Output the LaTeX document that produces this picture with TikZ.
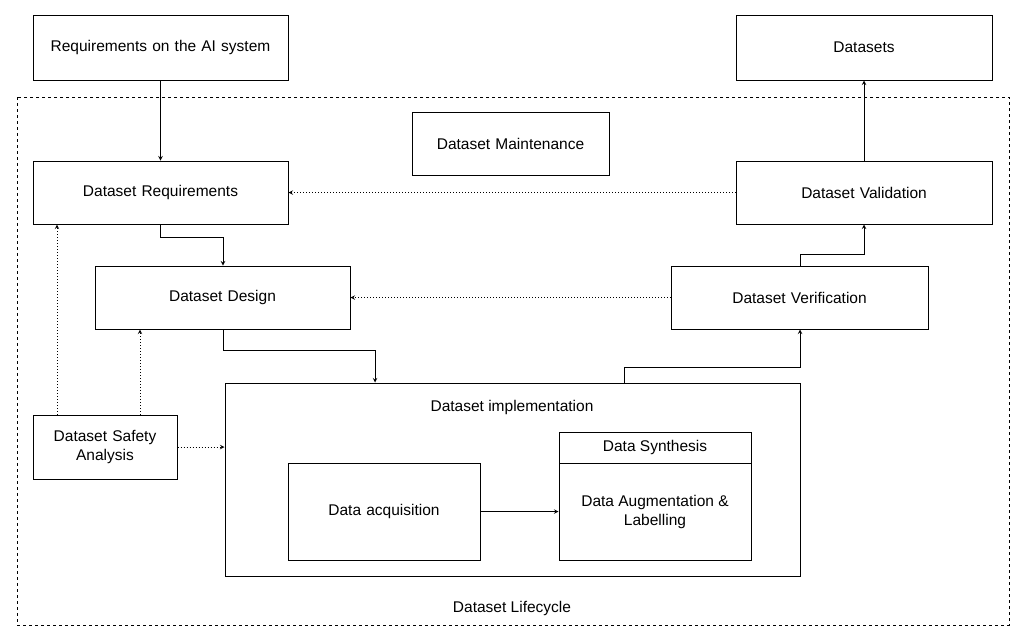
\documentclass[tikz,border=0pt]{standalone}
\usepackage{fontspec}
\setmainfont{Liberation Sans}
\begin{document}
\begin{tikzpicture}[x=1pt,y=-1pt,
  box/.style={draw,line width=1pt,align=center,font=\fontsize{15.5}{19}\selectfont},
  lbl/.style={align=center,font=\fontsize{15.5}{19}\selectfont},
  arr/.style={->,>=stealth,line width=1pt},
  dot/.style={->,>=stealth,line width=1pt,dotted}]
\useasboundingbox (0,0) rectangle (1024,641);
\draw[dashed,line width=1pt] (17,97) rectangle (1009,625);
\node[lbl] (life) at (512,608) {Dataset Lifecycle};
\newcommand{\bx}[6]{\node[box,minimum width=#4-#2,minimum height=#5-#3,text width=#4-#2-12] (#1) at ({(#2+#4)/2},{(#3+#5)/2}) {#6};}
\bx{rai}{33}{15}{288}{80}{Requirements on the AI system}
\bx{ds}{736}{15}{992}{80}{Datasets}
\bx{maint}{412}{112}{609}{175}{Dataset Maintenance}
\bx{dr}{33}{161}{288}{224}{Dataset Requirements}
\bx{dv}{736}{161}{992}{224}{Dataset Validation}
\bx{dd}{95}{266}{350}{329}{Dataset Design}
\bx{dver}{671}{266}{928}{329}{Dataset Verification}
\bx{impl}{225}{383}{800}{576}{}
\node[lbl] (impll) at (512,407) {Dataset implementation};
\bx{sa}{33}{415}{177}{479}{Dataset Safety Analysis}
\bx{acq}{288}{463}{480}{560}{Data acquisition}
\bx{syn}{559}{432}{751}{560}{}
\draw[line width=1pt] (559,463) -- (751,463);
\node[lbl] (synh) at (655,447) {Data Synthesis};
\node[lbl] (aug) at (655,512) {Data Augmentation \&\\Labelling};
\coordinate (v) at (0,0);
\draw[arr] (rai.south) -- (dr.north);
\draw[arr] (dr.south) |- (223,237) -- (dd.north -| 223,0);
\draw[arr] (dd.south -| 223,0) |- (375,350) -- (impl.north -| 375,0);
\draw[arr] (impl.north -| 624,0) |- (800,367) -- (dver.south -| 800,0);
\draw[arr] (dver.north -| 800,0) |- (864,254) -- (dv.south -| 864,0);
\draw[arr] (dv.north -| 864,0) -- (ds.south -| 864,0);
\draw[dot] (dv.west) -- (dr.east);
\draw[dot] (dver.west) -- (dd.east);
\draw[dot] (sa.north -| 57,0) -- (dr.south -| 57,0);
\draw[dot] (sa.north -| 140,0) -- (dd.south -| 140,0);
\draw[dot] (sa.east) -- (impl.west |- sa.east);
\draw[arr] (acq.east) -- (syn.west |- acq.east);
\end{tikzpicture}
\end{document}
